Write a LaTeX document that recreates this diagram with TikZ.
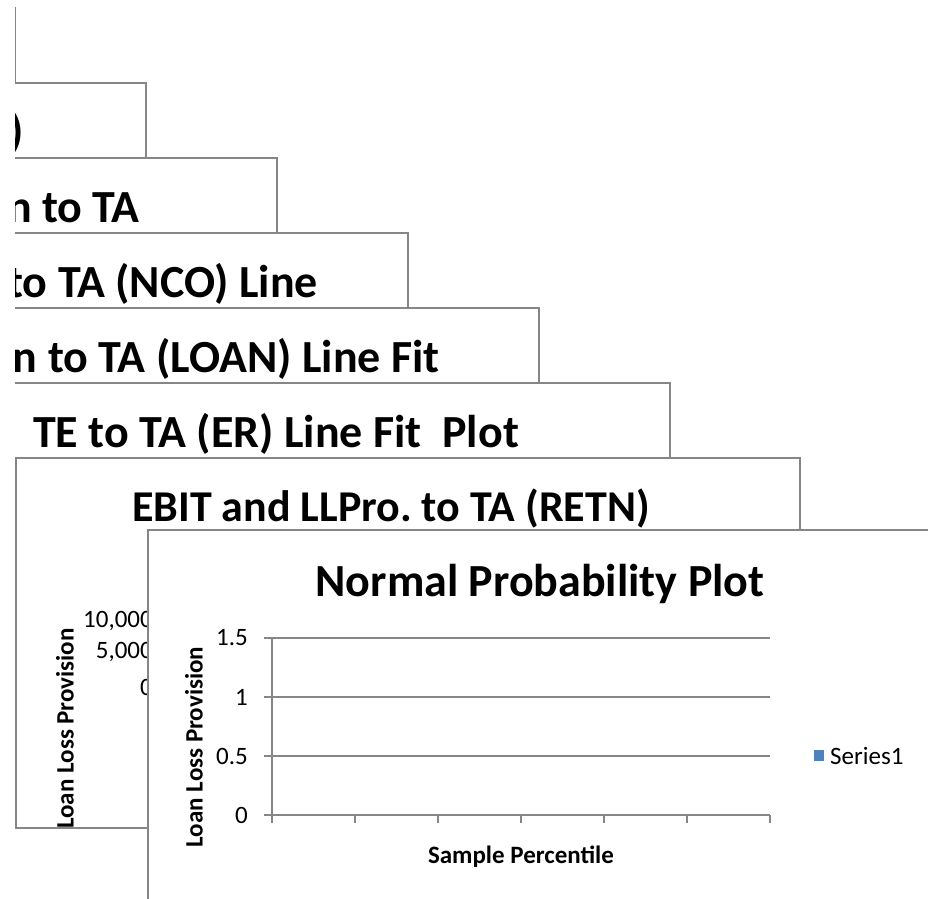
\documentclass[tikz,border=0pt]{standalone}
\usepackage{fontspec}
\setmainfont{Carlito}
\frenchspacing
\definecolor{frame}{HTML}{868686}
\definecolor{grid}{HTML}{868686}
\definecolor{series}{HTML}{4F81BD}
\begin{document}
\begin{tikzpicture}[x=1pt,y=-1pt,
  paneledge/.style={draw=frame,line width=1.3pt},
  panelfill/.style={fill=white},
  ctitle/.style={inner sep=0pt,anchor=base,font=\bfseries\fontsize{46}{50}\selectfont},
  tick/.style={inner sep=0pt,anchor=east,font=\fontsize{25}{29}\selectfont},
  axtitle/.style={inner sep=0pt,font=\bfseries\fontsize{25}{29}\selectfont},
  gridline/.style={draw=grid,line width=1.3pt}]
\useasboundingbox (0,0) rectangle (928,898);
\begin{scope}
\clip (15,-5) rectangle (940,905);
% panel 1
\path[panelfill,paneledge] (-769,8) rectangle (15,378);
% panel 2
\path[panelfill,paneledge] (-638,83) rectangle (146,453);
\begin{scope}
\clip (-638,83) rectangle (146,453);
\node[ctitle,anchor=base east] (t2) at (24,146) {)};
\end{scope}
% panel 3
\path[panelfill,paneledge] (-507,158) rectangle (277,528);
\begin{scope}
\clip (-507,158) rectangle (277,528);
\node[ctitle,anchor=base east] (t3) at (140,222) {n to TA};
\end{scope}
% panel 4
\path[panelfill,paneledge] (-376,233) rectangle (408,603);
\begin{scope}
\clip (-376,233) rectangle (408,603);
\node[ctitle,anchor=base east] (t4) at (318,297) {to TA (NCO) Line};
\end{scope}
% panel 5
\path[panelfill,paneledge] (-245,308) rectangle (539,678);
\begin{scope}
\clip (-245,308) rectangle (539,678);
\node[ctitle,anchor=base east] (t5) at (440,372) {n to TA (LOAN) Line Fit};
\end{scope}
% panel 6
\path[panelfill,paneledge] (-114,383) rectangle (670,753);
\begin{scope}
\clip (-114,383) rectangle (670,753);
\node[ctitle] (t6) at (276,447) {TE to TA (ER) Line Fit\ \ Plot};
\end{scope}
% panel 7 (EBIT)
\path[panelfill,paneledge] (16,458) rectangle (800,828);
\begin{scope}
\clip (16,458) rectangle (800,828);
\node[ctitle,font=\bfseries\fontsize{44}{48}\selectfont] (t7) at (391,521) {EBIT and LLPro. to TA (RETN)};
\node[tick] (e1) at (153,621) {10,000};
\node[tick] (e2) at (153,652) {5,000};
\node[tick] (e3) at (153,687) {0};
\node[axtitle,rotate=90,anchor=east] (ey) at (65,628) {Loan Loss Provision};
\end{scope}
% panel 8 (Normal probability plot)
\path[panelfill,paneledge] (148,530) rectangle (932,902);
\node[ctitle] (t8) at (540,596) {Normal Probability Plot};
\draw[gridline] (264,638) -- (770,638);
\draw[gridline] (264,697) -- (770,697);
\draw[gridline] (264,756) -- (770,756);
\draw[gridline] (264,815) -- (770,815);
\draw[gridline] (272,638) -- (272,823);
\foreach \i in {1,...,6} { \draw[gridline] (272+83*\i,815) -- (272+83*\i,823); }
\node[tick] (y15) at (248,638) {1.5};
\node[tick] (y10) at (248,697) {1};
\node[tick] (y05) at (248,756) {0.5};
\node[tick] (y00) at (248,815) {0};
\node[axtitle,rotate=90] (ny) at (194,747) {Loan Loss Provision};
\node[axtitle] (nx) at (521,857) {Sample Percentile};
\fill[series] (814,750) rectangle (824,761);
\node[inner sep=0pt,anchor=west,font=\fontsize{25}{29}\selectfont] (leg) at (830,756) {Series1};
\end{scope}
\end{tikzpicture}
\end{document}
